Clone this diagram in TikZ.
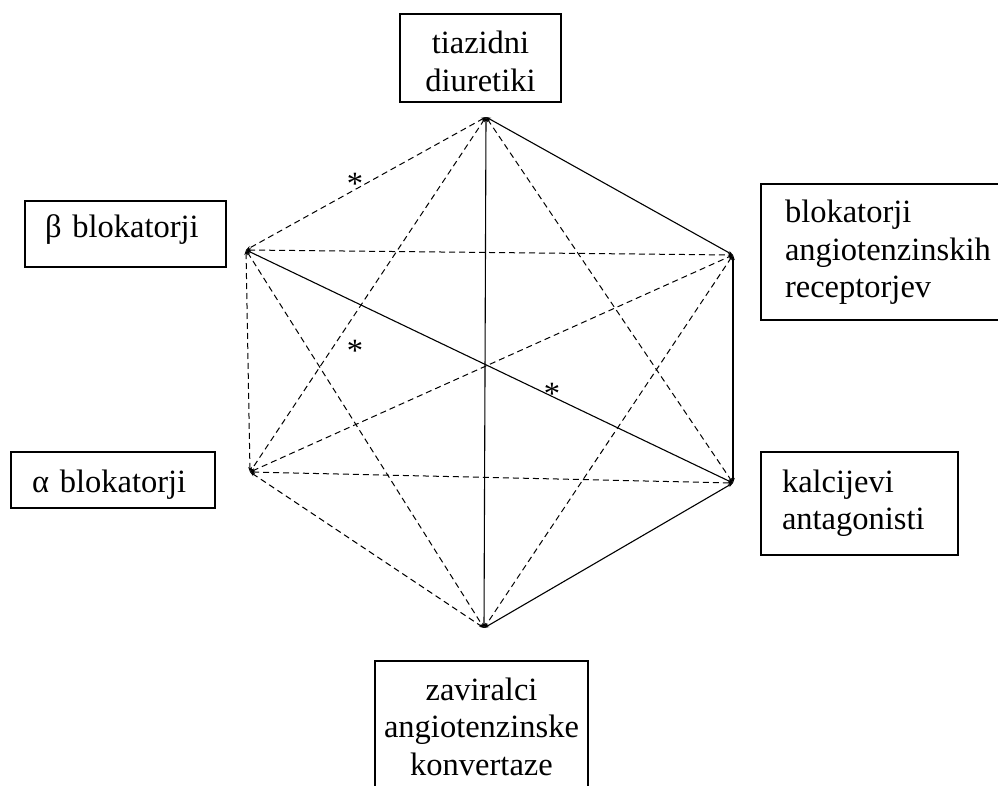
\documentclass[tikz,border=0pt]{standalone}
\usepackage{fontspec}
\setmainfont{Liberation Serif}
\usetikzlibrary{arrows.meta}
\begin{document}
\begin{tikzpicture}[x=1pt,y=-1pt,
  every node/.style={font=\fontsize{32.5}{37.5}\selectfont},
  labelbox/.style={draw, line width=1.1pt, anchor=north west, inner ysep=0pt, outer sep=0pt},
  solidlink/.style={line width=1.1pt, {Stealth[length=5pt,width=3.5pt]}-{Stealth[length=5pt,width=3.5pt]}},
  dashlink/.style={line width=1pt, dash pattern=on 6pt off 4pt, {Stealth[length=5pt,width=3.5pt]}-{Stealth[length=5pt,width=3.5pt]}},
  starmark/.style={inner sep=0pt}]
\useasboundingbox (0,0) rectangle (998,786);
% boxes
\node[labelbox, inner xsep=0pt, text width=161pt, align=center, text height=40pt, text depth=48pt] (tia) at (400,14) {tiazidni\\diuretiki};
\node[labelbox, inner xsep=20pt, text width=161pt, align=left, text height=37pt, text depth=29pt] (beta) at (25,201) {β blokatorji};
\node[labelbox, inner xsep=21pt, text width=162pt, align=left, text height=40pt, text depth=16pt] (alpha) at (11,452) {α blokatorji};
\node[labelbox, inner xsep=24pt, text width=230pt, align=left, text height=39pt, text depth=97pt] (arb) at (761,184) {blokatorji\\angiotenzinskih\\receptorjev};
\node[labelbox, inner xsep=21pt, text width=155pt, align=left, text height=40pt, text depth=63pt] (cca) at (761,452) {kalcijevi\\antagonisti};
\node[labelbox, inner xsep=0pt, text width=213pt, align=center, text height=39pt, text depth=120pt] (ace) at (375,661) {zaviralci\\angiotenzinske\\konvertaze};
% vertices
\coordinate (T) at (486,117);
\coordinate (UR) at (733,255);
\coordinate (LR) at (733,483);
\coordinate (B) at (484,628);
\coordinate (LL) at (250,472);
\coordinate (UL) at (246,250);
% solid links
\draw[solidlink] (T) -- (UR);
\draw[solidlink] (UR) -- (LR);
\draw[solidlink] (LR) -- (B);
\draw[solidlink] (T) -- (B);
\draw[solidlink] (UL) -- (LR);
% dashed links
\draw[dashlink] (T) -- (UL);
\draw[dashlink] (T) -- (LL);
\draw[dashlink] (T) -- (LR);
\draw[dashlink] (UL) -- (UR);
\draw[dashlink] (UL) -- (LL);
\draw[dashlink] (UL) -- (B);
\draw[dashlink] (LL) -- (UR);
\draw[dashlink] (LL) -- (LR);
\draw[dashlink] (LL) -- (B);
\draw[dashlink] (UR) -- (B);
% stars
\node[starmark] (s1) at (355,184) {*};
\node[starmark] (s2) at (355,351) {*};
\node[starmark] (s3) at (552,394) {*};
\end{tikzpicture}
\end{document}
